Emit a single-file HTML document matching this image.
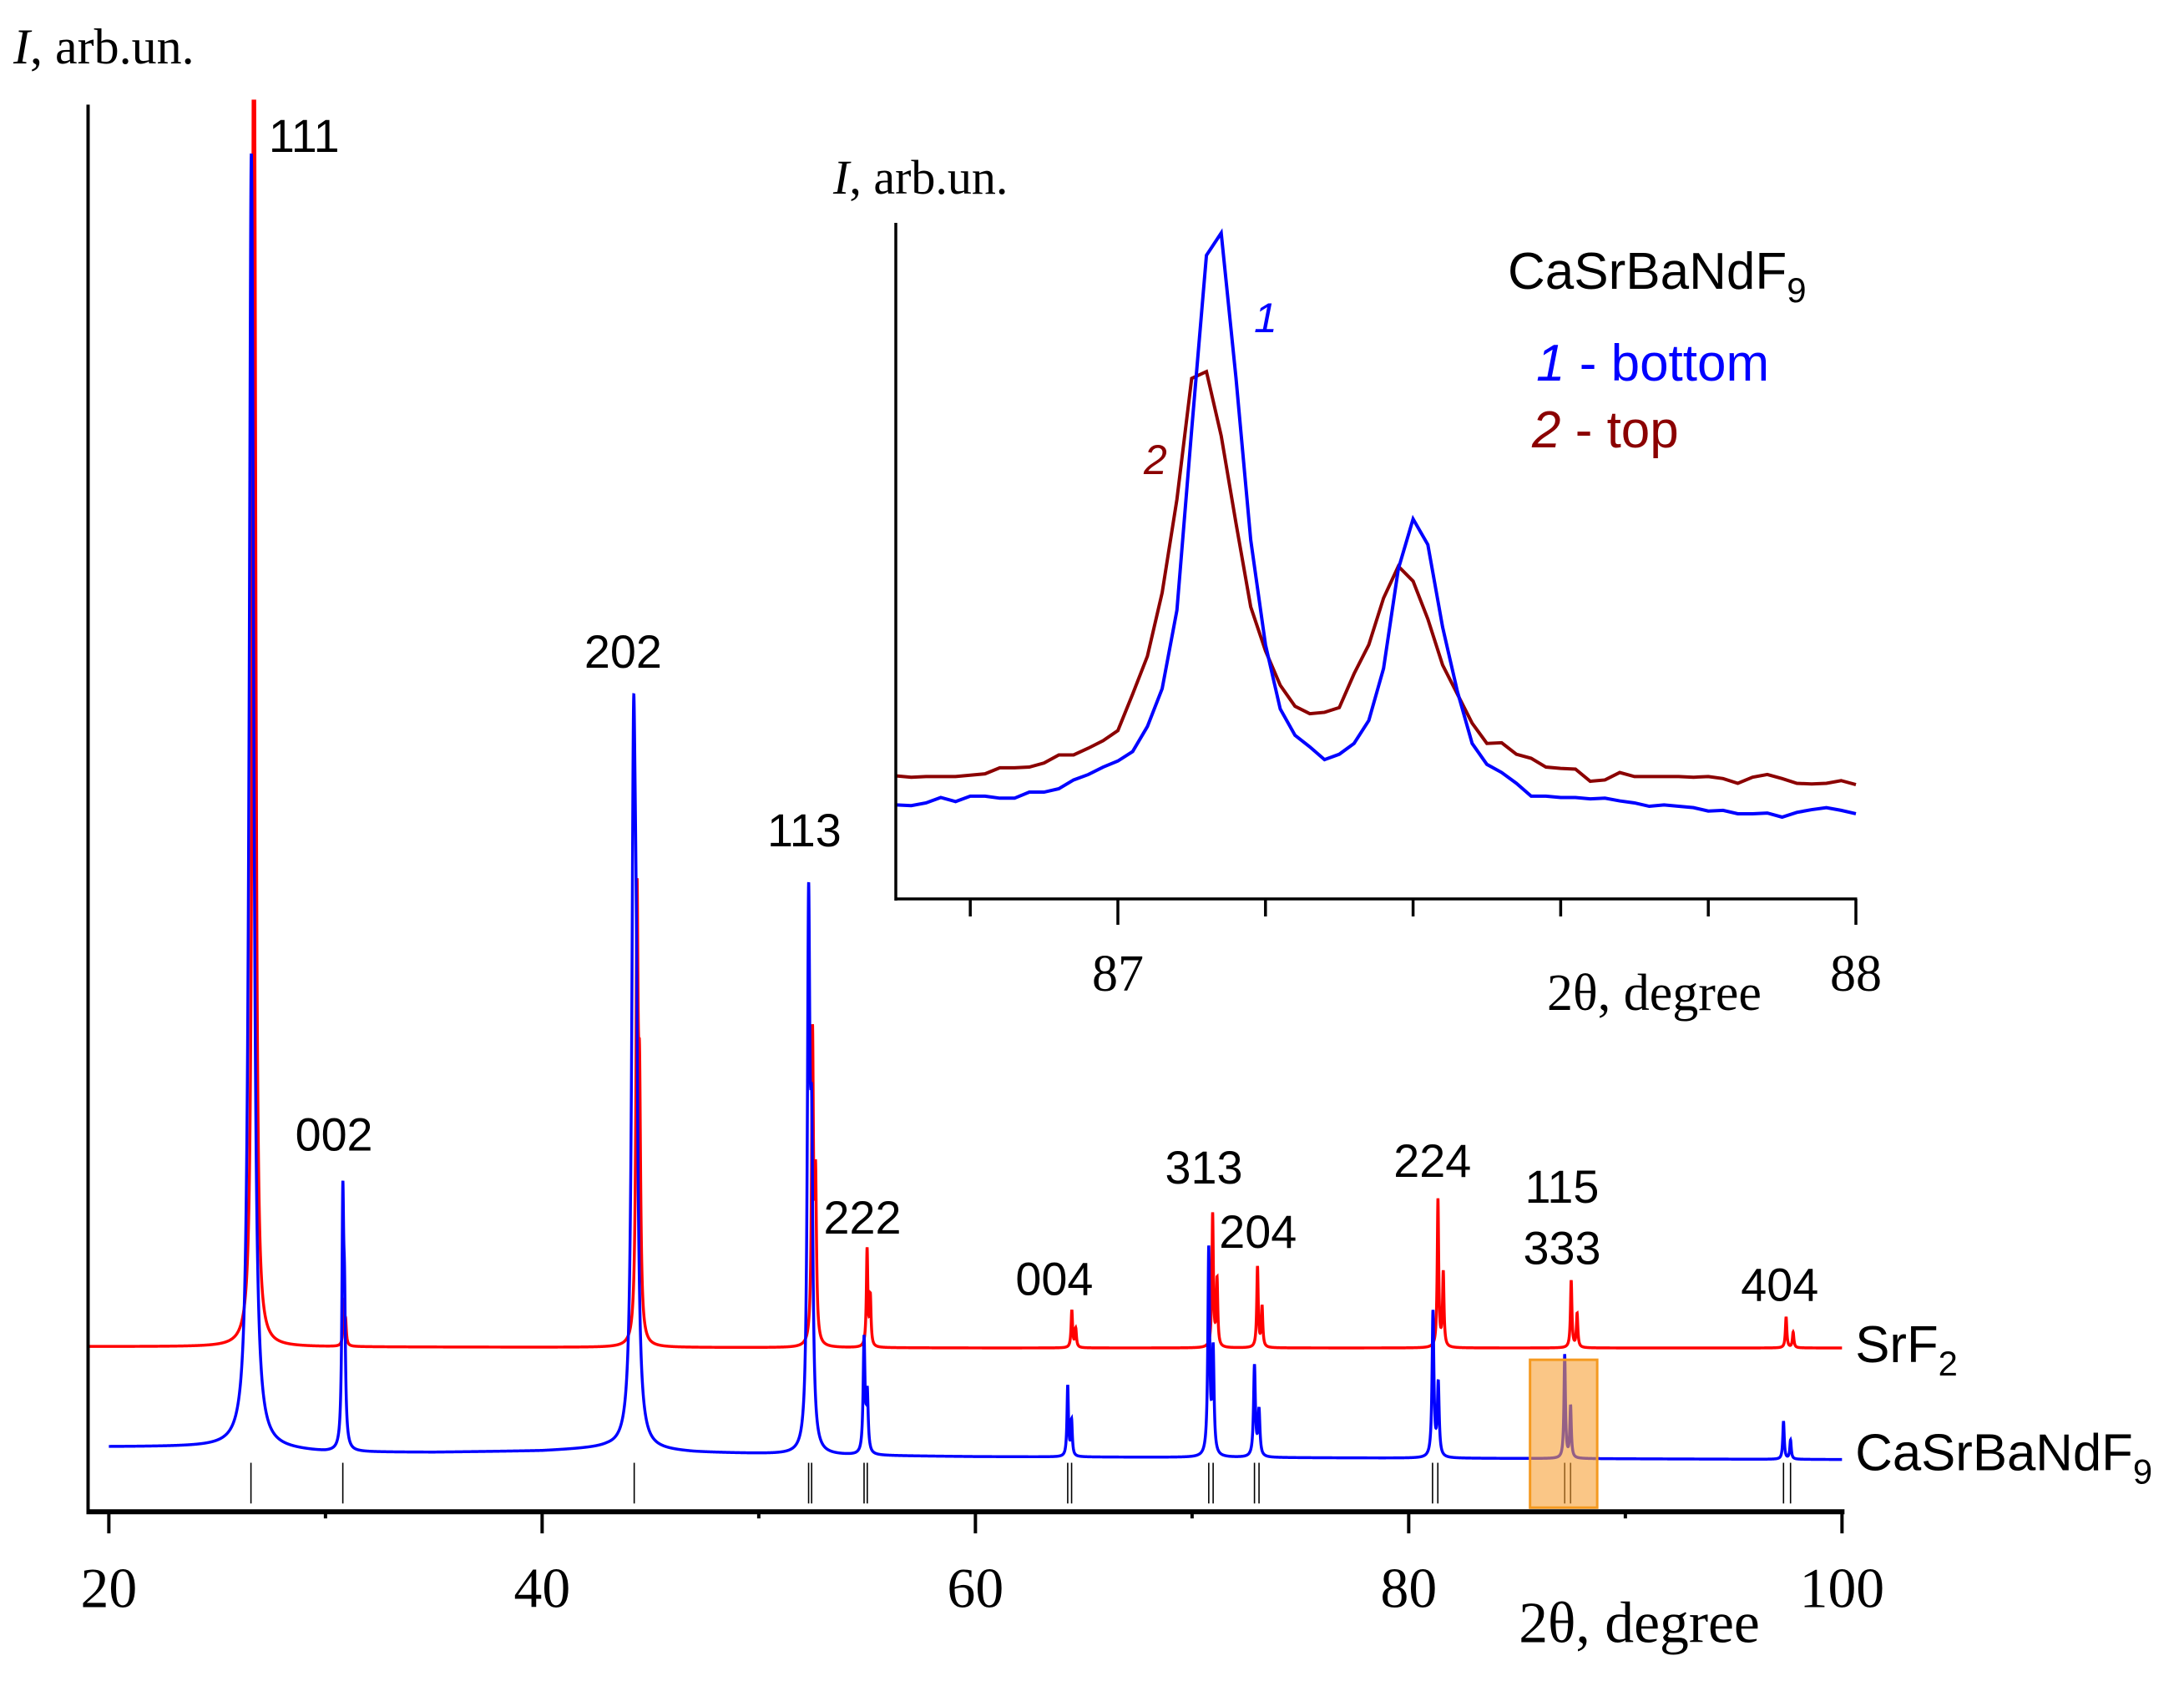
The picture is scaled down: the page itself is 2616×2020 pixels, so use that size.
<!DOCTYPE html>
<html><head><meta charset="utf-8">
<style>
html,body{margin:0;padding:0;background:#fff;}
svg{display:block;}
.ser{font-family:"Liberation Serif",serif;}
.san{font-family:"Liberation Sans",sans-serif;}
</style></head>
<body>
<svg id="chart" width="2616" height="2020" viewBox="0 0 2616 2020" xmlns="http://www.w3.org/2000/svg">
<defs><clipPath id="mainclip"><rect x="100" y="120" width="2130" height="1700"/></clipPath></defs>
<g id="main" transform="scale(0.9952)"></g>
<g id="inset"></g>
</svg>
<script>
// ===== main chart data =====
const hklLabels = ["111","002","202","113","222","004","313","204","224","115","333","404"];
const redPos = [26.68,30.85,44.38,52.48,55.0,64.45,70.95,73.02,81.35,87.5,97.42];
const redHeights = [1000,32,332,229,71,27,96,58,106,48,22];
const redWidths = [0.07,0.04,0.06,0.05,0.04,0.04,0.04,0.04,0.04,0.04,0.04];
const bluePos = [26.56,30.8,44.22,52.3,54.86,64.26,70.77,72.88,81.12,87.2,97.3];
const blueHeights = [899,191,529,405,85,51,150,66,105,74,27];
const blueWidths = [0.11,0.05,0.1,0.07,0.05,0.04,0.05,0.05,0.05,0.04,0.04];
const redBaseline = [[19.0,117],[60,116],[100,116]];
const blueBaseline = [[20,46],[26,46],[30,42],[35,42],[40,43],[43,45],[47,42],[53,40],[60,39],[100,37]];
const refTicks = [26.56,30.8,44.25,52.3,54.86,64.26,70.77,72.88,81.1,87.2,97.3];
const xTicksMain = [20,40,60,80,100];

// ===== inset data =====
const insetStart = 86.70, insetStep = 0.02;
const insetBlue = [13.9,13.8,14.2,15.0,14.4,15.2,15.2,14.9,14.9,15.8,15.8,16.3,17.6,18.4,19.5,20.4,21.8,25.5,31.1,42.7,69.4,95.2,98.5,77.1,53.1,37.6,28.1,24.2,22.5,20.6,21.4,23.0,26.4,34.1,48.8,56.2,52.4,40.2,30.7,23.0,19.9,18.7,17.1,15.2,15.2,15.0,15.0,14.8,14.9,14.5,14.2,13.7,13.9,13.7,13.5,13.0,13.1,12.6,12.6,12.7,12.1,12.8,13.2,13.5,13.1,12.6];
const insetRed = [18.2,18.0,18.1,18.1,18.1,18.3,18.5,19.4,19.4,19.5,20.1,21.3,21.3,22.3,23.4,24.9,30.3,35.9,45.3,59.1,77.0,78.0,68.5,55.6,43.2,36.7,31.6,28.5,27.4,27.6,28.3,33.3,37.6,44.5,49.2,47.0,41.4,34.6,30.3,26.0,23.0,23.1,21.4,20.8,19.5,19.3,19.2,17.4,17.6,18.7,18.1,18.1,18.1,18.1,18.0,18.1,17.8,17.1,18.0,18.4,17.8,17.1,17.0,17.1,17.5,16.9];
const insetTicks = [86.8,87.0,87.2,87.4,87.6,87.8,88.0];

const NS="http://www.w3.org/2000/svg";
function mk(tag, attrs, parent){const e=document.createElementNS(NS,tag);for(const k in attrs)e.setAttribute(k,attrs[k]);parent.appendChild(e);return e;}

// main scales
const X0=131, X1=2217, Y0=1820;
function xs(v){return X0+(v-20)*(X1-X0)/80;}
function ys(v){return Y0-v*1.7;}
function baseAt(b,x){for(let i=0;i<b.length-1;i++){if(x<=b[i+1][0]){const t=(x-b[i][0])/(b[i+1][0]-b[i][0]);return b[i][1]+t*(b[i+1][1]-b[i][1]);}}return b[b.length-1][1];}
function sep(p){return 2*0.00249*Math.tan(p/2*Math.PI/180)*180/Math.PI;}
function lor(d,g){return 1/(1+(d/g)*(d/g));}
function profile(x,pos,hts,wid){let s=0;for(let i=0;i<pos.length;i++){const g=wid[i],dp=sep(pos[i]);const n=1+0.5*lor(dp,g);s+=hts[i]*(lor(x-pos[i],g)+0.5*lor(x-pos[i]-dp,g))/n;}return s;}
function buildPath(from,to,pos,hts,wid,base){let d="";for(let x=from;x<=to+1e-9;x+=0.005){const y=ys(baseAt(base,x)+profile(x,pos,hts,wid));d+=(d?"L":"M")+xs(x).toFixed(2)+","+y.toFixed(2);}return d;}

const main=document.getElementById('main');
const g1=mk('g',{'clip-path':'url(#mainclip)'},main);
const redPath=mk('path',{d:buildPath(19.0,100,redPos,redHeights,redWidths,redBaseline),fill:'none',stroke:'#ff0000','stroke-width':3.5},g1);


const bluePath=mk('path',{d:buildPath(20,100,bluePos,blueHeights,blueWidths,blueBaseline),fill:'none',stroke:'#0000ff','stroke-width':3.5},g1);



// reference ticks
refTicks.forEach(p=>{
  const offs = p>50 ? [0,sep(p)] : [0];
  offs.forEach(o=>{
    const l=mk('line',{x1:xs(p+o),x2:xs(p+o),y1:1761,y2:1810,stroke:'#000','stroke-width':1.6},main);
    
    
  });
});

// highlight box
const hb=mk('rect',{x:xs(85.6),y:1637,width:xs(88.7)-xs(85.6),height:178,fill:'#f7a035','fill-opacity':0.6,stroke:'#f59a20','stroke-width':3},main);



// axes
const ya=mk('line',{x1:106,x2:106,y1:126,y2:1822,stroke:'#000','stroke-width':4},main);


const xa=mk('line',{x1:104,x2:2220,y1:1820,y2:1820,stroke:'#000','stroke-width':6},main);


for(let v=20;v<=100;v+=10){
  const major=(v%20===0);
  const t=mk('line',{x1:xs(v),x2:xs(v),y1:1820,y2:major?1846:1828,stroke:'#000','stroke-width':4},main);
  
  
}
xTicksMain.forEach(v=>{
  const t=mk('text',{x:xs(v),y:1935,'text-anchor':'middle','font-size':68,class:'ser'},main);
  t.textContent=v;
  
  
});

// inset
const inset=document.getElementById('inset');
const IX0=1073, IX1=2223, IY0=1077;
function ixs(v){return 1339+(v-87)*884;}
function iys(v){return IY0-v*8.10;}
function ipath(arr){return arr.map((v,i)=>(i?"L":"M")+ixs(insetStart+i*insetStep).toFixed(2)+","+iys(v).toFixed(2)).join("");}
const ir=mk('path',{d:ipath(insetRed),fill:'none',stroke:'#8b0000','stroke-width':4},inset);


const ib=mk('path',{d:ipath(insetBlue),fill:'none',stroke:'#0000ff','stroke-width':4},inset);


const iya=mk('line',{x1:IX0,x2:IX0,y1:267,y2:1079,stroke:'#000','stroke-width':3.5},inset);


const ixa=mk('line',{x1:IX0-1.5,x2:IX1+1.5,y1:IY0,y2:IY0,stroke:'#000','stroke-width':3.5},inset);


insetTicks.forEach(v=>{
  const major=Math.abs(v-Math.round(v))<1e-6;
  const t=mk('line',{x1:ixs(v),x2:ixs(v),y1:IY0,y2:major?1108:1098,stroke:'#000','stroke-width':3.5},inset);
  
  
});
</script>
<!-- static labels -->
<svg style="position:absolute;left:0;top:0" width="2616" height="2020" xmlns="http://www.w3.org/2000/svg">
<g class="ser" font-size="60">
<text x="16" y="76"><tspan font-style="italic">I</tspan>, arb.un.</text>
<text x="998" y="232" font-size="58"><tspan font-style="italic">I</tspan>, arb.un.</text>
<text x="1853" y="1210" font-size="62">2θ, degree</text>
<text x="1339" y="1187" font-size="62" text-anchor="middle">87</text>
<text x="2223" y="1187" font-size="62" text-anchor="middle">88</text>
</g>
<g transform="scale(0.9952)">
<text class="ser" x="1828" y="1977" font-size="70">2θ, degree</text>
<g class="san" font-size="56" text-anchor="middle">
<text x="366" y="183">111</text>
<text x="402" y="1385">002</text>
<text x="750" y="804">202</text>
<text x="968" y="1019">113</text>
<text x="1038" y="1485">222</text>
<text x="1269" y="1559">004</text>
<text x="1449" y="1425">313</text>
<text x="1514" y="1502">204</text>
<text x="1724" y="1417">224</text>
<text x="1880" y="1448">115</text>
<text x="1880" y="1522">333</text>
<text x="2142" y="1566">404</text>
</g>
<g class="san" font-size="62">
<text x="2233" y="1640">SrF<tspan font-size="42" dy="16">2</tspan></text>
<text x="2233" y="1770">CaSrBaNdF<tspan font-size="42" dy="16">9</tspan></text>
</g>
</g>
<g class="san" font-size="62">
<text x="1806" y="346">CaSrBaNdF<tspan font-size="42" dy="16">9</tspan></text>
<text x="1840" y="456" fill="#0000ff"><tspan font-style="italic">1</tspan> - bottom</text>
<text x="1835" y="536" fill="#8b0000"><tspan font-style="italic">2</tspan> - top</text>
<text x="1502" y="398" font-size="50" font-style="italic" fill="#0000ff">1</text>
<text x="1370" y="568" font-size="50" font-style="italic" fill="#8b0000">2</text>
</g>
</svg>
</body></html>
